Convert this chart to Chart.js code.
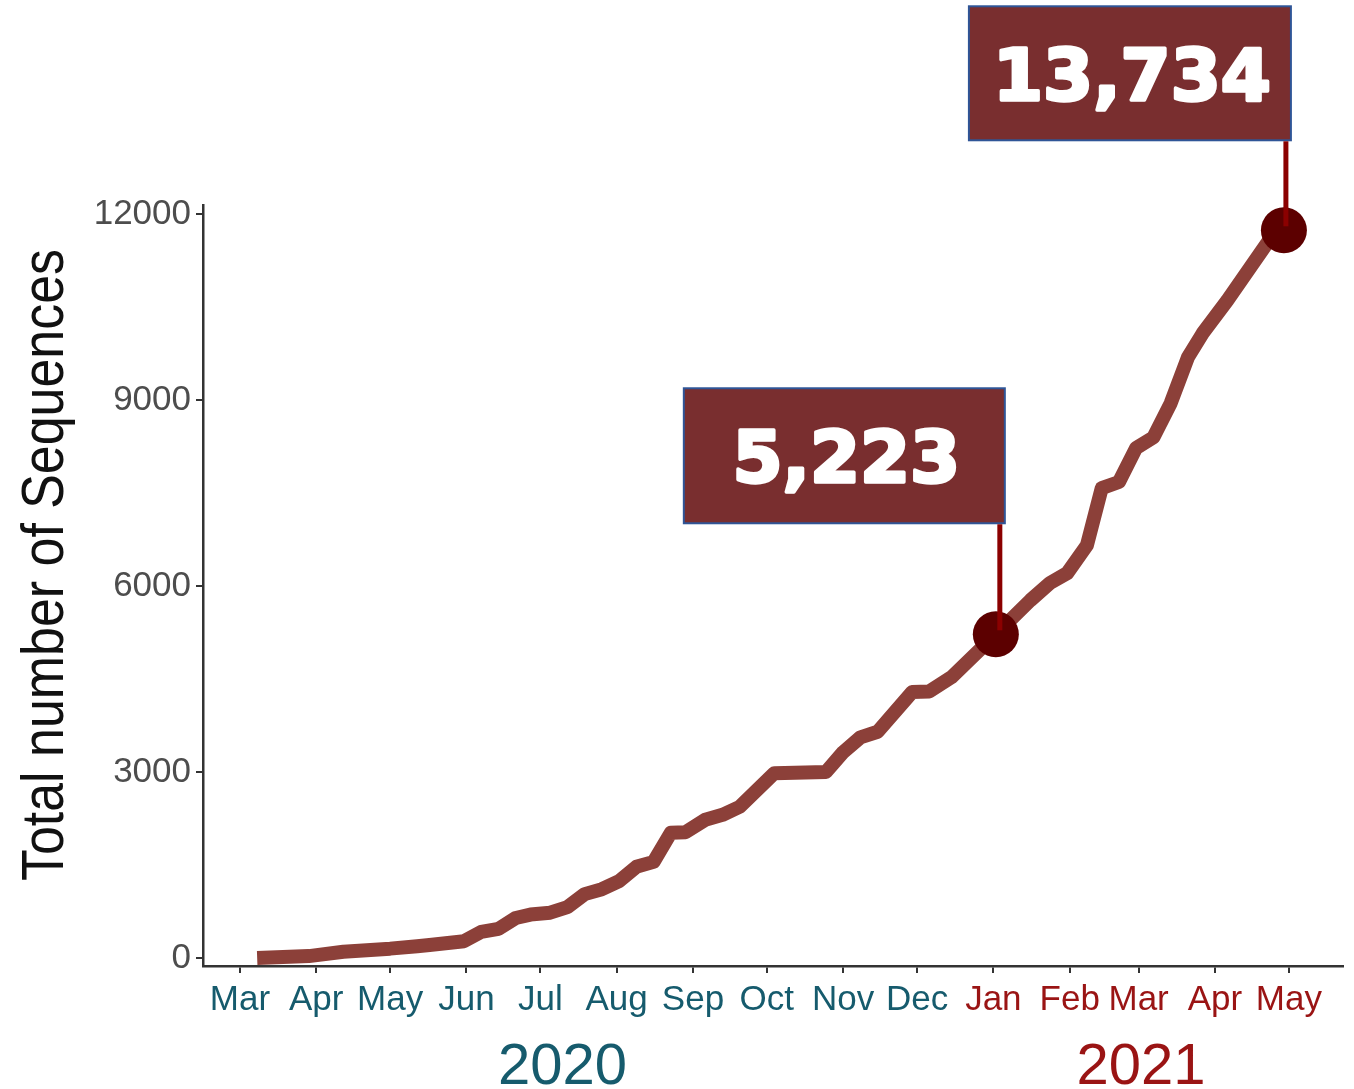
<!DOCTYPE html>
<html>
<head>
<meta charset="utf-8">
<script src="https://cdn.jsdelivr.net/npm/chart.js@4.4.1/dist/chart.umd.min.js"></script>
<style>
  body { margin: 0; background: #fff; }
  canvas { display: block; }
</style>
</head>
<body>
<canvas id="chart" width="1354" height="1089"></canvas>
<script>
// x values are days counted from 1 Mar 2020
const days = [7, 28, 42, 61, 72, 77, 91, 98, 105, 112, 118, 126, 133, 140, 147, 154, 161, 168, 175, 181,
  189, 196, 203, 217, 238, 245, 252, 259, 273, 280, 289, 307, 321, 329, 336, 344, 350, 357, 364, 371,
  378, 385, 391, 401, 418, 424];
const totals = [0, 30, 100, 150, 190, 210, 270, 420, 470, 645, 700, 730, 820, 1030, 1110, 1240, 1470, 1550, 2020, 2030,
  2230, 2310, 2440, 2980, 3000, 3320, 3560, 3650, 4290, 4300, 4530, 5223, 5770, 6050, 6210, 6660, 7580, 7680, 8230, 8400,
  8950, 9690, 10080, 10610, 11580, 11742];

const monthDays = [0, 31, 61, 92, 122, 153, 184, 214, 245, 275, 306, 337, 365, 396, 426];
const monthLabels = ["Mar", "Apr", "May", "Jun", "Jul", "Aug", "Sep", "Oct", "Nov", "Dec", "Jan", "Feb", "Mar", "Apr", "May"];
const monthYears = [2020, 2020, 2020, 2020, 2020, 2020, 2020, 2020, 2020, 2020, 2021, 2021, 2021, 2021, 2021];
const yTicks = [0, 3000, 6000, 9000, 12000];

const years = [2020, 2021];
const yearCenters = [131, 366];

const highlightIdx = [31, 45];
const highlightText = ["5,223", "13,734"];

const yearColor = { 2020: "#165b6d", 2021: "#9a1414" };
const lineColor = "#8c4039";
const dotColor = "#5c0000";

// box placement relative to the highlighted point (px)
const boxes = [
  { left: -312, top: -246, w: 321, h: 135 },
  { left: -315, top: -224, w: 322, h: 134 },
];

const annotate = {
  id: "annotate",
  afterDatasetsDraw(chart) {
    const { ctx } = chart;
    const meta = chart.getDatasetMeta(0);
    highlightIdx.forEach((idx, i) => {
      const pt = meta.data[idx];
      const b = boxes[i];
      const x0 = pt.x + b.left, y0 = pt.y + b.top;
      ctx.save();
      // highlighted point
      ctx.fillStyle = dotColor;
      ctx.beginPath();
      ctx.arc(pt.x, pt.y, 23, 0, Math.PI * 2);
      ctx.fill();
      // label box
      ctx.fillStyle = "#792e2f";
      ctx.fillRect(x0, y0, b.w, b.h);
      ctx.strokeStyle = "#2f5597";
      ctx.lineWidth = 2;
      ctx.strokeRect(x0, y0, b.w, b.h);
      ctx.font = "bold 72px 'DejaVu Sans'";
      ctx.fillStyle = "#fff";
      ctx.strokeStyle = "#fff";
      ctx.lineWidth = 3.5;
      ctx.lineJoin = "round";
      ctx.textAlign = "center";
      ctx.textBaseline = "alphabetic";
      const cap = 53;
      ctx.fillText(highlightText[i], x0 + b.w / 2 + 2, y0 + b.h / 2 + cap / 2);
      ctx.strokeText(highlightText[i], x0 + b.w / 2 + 2, y0 + b.h / 2 + cap / 2);
      // drop line
      const lx = x0 + b.w - 5;
      ctx.strokeStyle = "#8b0000";
      ctx.lineWidth = 5;
      ctx.beginPath();
      ctx.moveTo(lx, y0 + b.h + 1);
      ctx.lineTo(lx, pt.y - 4);
      ctx.stroke();
      ctx.restore();
    });
  },
  afterDraw(chart) {
    const { ctx } = chart;
    const xs = chart.scales.x;
    ctx.save();
    // year labels
    ctx.font = "58px 'Liberation Sans', Arial, sans-serif";
    ctx.textAlign = "center";
    ctx.textBaseline = "alphabetic";
    years.forEach((yr, i) => {
      ctx.fillStyle = yearColor[yr];
      ctx.fillText(String(yr), xs.getPixelForValue(yearCenters[i]), 1084);
    });
    // condensed y axis title
    ctx.translate(63, 565);
    ctx.rotate(-Math.PI / 2);
    ctx.scale(0.88, 1);
    ctx.font = "59px 'Liberation Sans', Arial, sans-serif";
    ctx.fillStyle = "#111";
    ctx.fillText("Total number of Sequences", 0, 0);
    ctx.restore();
  },
};

new Chart(document.getElementById("chart"), {
  type: "line",
  data: {
    datasets: [
      {
        data: days.map((d, i) => ({ x: d, y: totals[i] })),
        borderColor: lineColor,
        borderWidth: 14,
        borderCapStyle: "butt",
        borderJoinStyle: "round",
        pointRadius: 0,
        tension: 0,
        clip: false,
      },
    ],
  },
  options: {
    responsive: false,
    animation: false,
    events: [],
    layout: { padding: { top: 205, right: 11, left: 0, bottom: 0 } },
    plugins: { legend: { display: false }, tooltip: { enabled: false } },
    scales: {
      x: {
        type: "linear",
        min: -15,
        max: 448,
        afterBuildTicks: (s) => { s.ticks = monthDays.map((v) => ({ value: v })); },
        afterFit: (s) => { s.height = 123; s.paddingLeft = 0; s.paddingRight = 0; },
        grid: { display: true, drawOnChartArea: false, drawTicks: true, tickLength: 7, color: "#333", lineWidth: 2 },
        border: { display: true, color: "#333", width: 2.5 },
        ticks: {
          autoSkip: false,
          maxRotation: 0,
          padding: 6,
          font: { size: 35, family: "'Liberation Sans', Arial, sans-serif" },
          color: (c) => yearColor[monthYears[c.index]],
          callback: (v, i) => monthLabels[i],
        },
      },
      y: {
        min: -130,
        max: 12150,
        afterBuildTicks: (s) => { s.ticks = yTicks.map((v) => ({ value: v })); },
        afterFit: (s) => { s.width = 203; s.paddingTop = 0; s.paddingBottom = 0; },
        grid: { display: true, drawOnChartArea: false, drawTicks: true, tickLength: 7, color: "#333", lineWidth: 2 },
        border: { display: true, color: "#333", width: 2.5 },
        ticks: {
          padding: 5,
          font: { size: 35, family: "'Liberation Sans', Arial, sans-serif" },
          color: "#4d4d4d",
          callback: (v) => String(v),
        },
      },
    },
  },
  plugins: [annotate],
});
</script>
</body>
</html>
